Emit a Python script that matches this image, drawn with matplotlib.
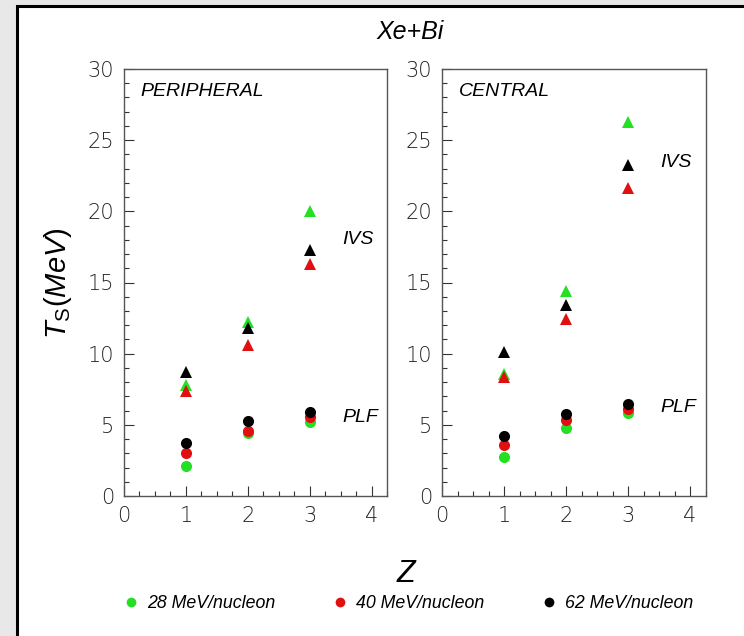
import matplotlib
matplotlib.use("Agg")
import matplotlib.pyplot as plt
from matplotlib.lines import Line2D
from matplotlib.patches import Rectangle
from matplotlib.ticker import MultipleLocator

plt.rcParams['font.family'] = ['Liberation Sans', 'DejaVu Sans']
plt.rcParams['mathtext.fontset'] = 'custom'
plt.rcParams['mathtext.rm'] = 'Liberation Sans'
plt.rcParams['mathtext.it'] = 'Liberation Sans:italic'

# ---- data ----
Z = [1, 2, 3]
energies = ["28 MeV/nucleon", "40 MeV/nucleon", "62 MeV/nucleon"]
colors = ["#22e022", "#e01010", "#000000"]

periph_ivs = {
    "28": [7.8, 12.2, 20.0],
    "40": [7.4, 10.6, 16.3],
    "62": [8.7, 11.8, 17.3],
}
periph_plf = {
    "28": [2.1, 4.4, 5.2],
    "40": [3.05, 4.6, 5.55],
    "62": [3.7, 5.25, 5.9],
}
central_ivs = {
    "28": [8.6, 14.4, 26.3],
    "40": [8.35, 12.45, 21.65],
    "62": [10.1, 13.45, 23.25],
}
central_plf = {
    "28": [2.75, 4.8, 5.85],
    "40": [3.6, 5.35, 6.1],
    "62": [4.25, 5.75, 6.45],
}
keys = ["28", "40", "62"]

W, H = 744, 636
fig = plt.figure(figsize=(W / 100, H / 100), dpi=100, facecolor="#e8e8e8")

# white panel with black frame (left/top visible)
panel = Rectangle((17 / W, -0.1), 1.2, 1.1 - 6 / H,
                  transform=fig.transFigure, facecolor="white",
                  edgecolor="black", linewidth=2.2, zorder=-10)
fig.patches.append(panel)

ax_bottom = (H - 496) / H
ax_h = (496 - 69) / H
ax1 = fig.add_axes([124 / W, ax_bottom, (387 - 124) / W, ax_h], zorder=5)
ax2 = fig.add_axes([442 / W, ax_bottom, (705.5 - 442) / W, ax_h], zorder=5)

def style(ax):
    ax.set_xlim(0, 4.25)
    ax.set_ylim(0, 30)
    ax.set_facecolor("white")
    for s in ax.spines.values():
        s.set_color("#555555")
        s.set_linewidth(1.0)
    ax.xaxis.set_major_locator(MultipleLocator(1))
    ax.xaxis.set_minor_locator(MultipleLocator(0.25))
    ax.yaxis.set_major_locator(MultipleLocator(5))
    ax.yaxis.set_minor_locator(MultipleLocator(1))
    ax.tick_params(which="both", direction="in", top=False, right=False,
                   color="#333333", width=0.8)
    ax.tick_params(which="major", length=7, pad=7, labelcolor="#222222")
    ax.tick_params(which="minor", length=3.5)
    for lab in ax.get_xticklabels() + ax.get_yticklabels():
        lab.set_fontfamily("DejaVu Sans")
        lab.set_fontweight("light")
        lab.set_fontsize(15)

for ax, ivs, plf, label in [(ax1, periph_ivs, periph_plf, "PERIPHERAL"),
                            (ax2, central_ivs, central_plf, "CENTRAL")]:
    style(ax)
    for k, c in zip(keys, colors):
        ax.plot(Z, ivs[k], linestyle="none", marker="^", markersize=8,
                color=c, markeredgewidth=0, clip_on=False)
        ax.plot(Z, plf[k], linestyle="none", marker="o", markersize=8,
                color=c, markeredgewidth=0, clip_on=False)
    ax.text(0.27, 28.4, label, fontsize=14, style="italic", va="center",
            ha="left")

ax1.text(3.53, 18.0, "IVS", fontsize=14, style="italic", va="center")
ax1.text(3.53, 5.55, "PLF", fontsize=14, style="italic", va="center")
ax2.text(3.52, 23.45, "IVS", fontsize=14, style="italic", va="center")
ax2.text(3.52, 6.25, "PLF", fontsize=14, style="italic", va="center")

fig.text(410 / W, 1 - 32 / H, "Xe+Bi", fontsize=18, style="italic",
         ha="center", va="center")
fig.text(406 / W, 1 - 574 / H, "Z", fontsize=22, style="italic",
         ha="center", va="center")
fig.text(58 / W, 1 - 283 / H, r"$\mathit{T}_{\mathrm{S}}\mathit{(MeV)}$",
         fontsize=21, rotation=90, ha="center", va="center")

handles = [Line2D([], [], linestyle="none", marker="o", markersize=7,
                  color=c, markeredgewidth=0) for c in colors]
leg = fig.legend(handles, energies, loc="center left",
                 bbox_to_anchor=(107 / W, 1 - 604 / H), ncol=3,
                 frameon=False, handlelength=0.9, handletextpad=0.45,
                 columnspacing=3.2, prop={"size": 12.8, "style": "italic"})

fig.savefig("out.png", dpi=100, facecolor=fig.get_facecolor())
